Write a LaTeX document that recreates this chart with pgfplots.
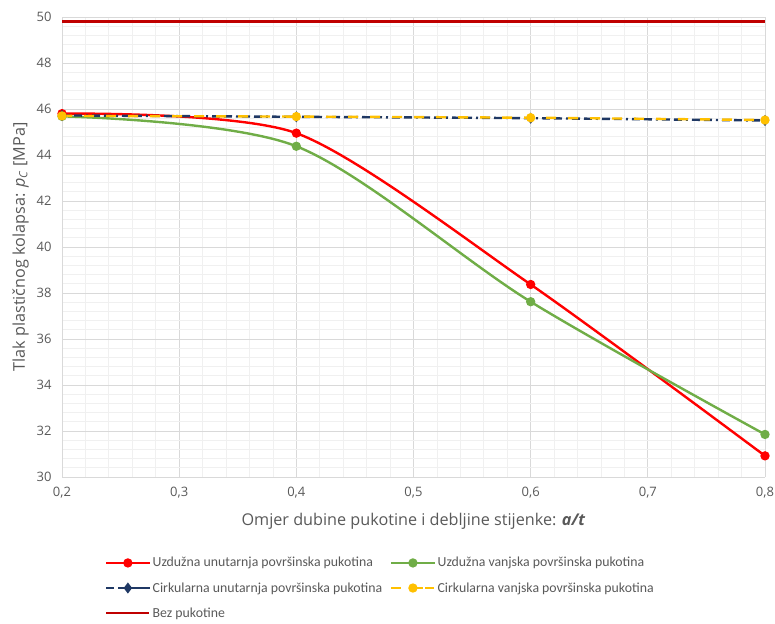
\documentclass[border=0pt]{standalone}
\usepackage{pgfplots}
\pgfplotsset{compat=1.18}
\usepackage{fontspec}
\setmainfont{Open Sans}
\newfontfamily\legfont{Carlito}
\definecolor{tickgray}{HTML}{595959}
\definecolor{majgrid}{HTML}{D9D9D9}
\definecolor{mingrid}{HTML}{F0F0F0}
\definecolor{cred}{HTML}{FF0000}
\definecolor{cgreen}{HTML}{70AD47}
\definecolor{cnavy}{HTML}{1F3864}
\definecolor{cgold}{HTML}{FFC000}
\definecolor{cdark}{HTML}{C00000}
\begin{document}
\begin{tikzpicture}
\useasboundingbox (-62pt,-146pt) rectangle (713pt,477pt);
\begin{axis}[
  scale only axis, width=703pt, height=460pt,
  xmin=0.2, xmax=0.8, ymin=30, ymax=50,
  xtick={0.2,0.3,...,0.8}, ytick={30,32,...,50},
  minor x tick num=4, minor y tick num=4,
  grid=both,
  major grid style={majgrid, line width=0.8pt},
  minor grid style={mingrid, line width=0.8pt},
  major tick length=0pt, minor tick length=0pt,
  axis lines*=left,
  axis line style={-, color=majgrid, line width=0.8pt},
  x tick label style={/pgf/number format/.cd, fixed, precision=1, use comma, /tikz/.cd},
  /pgf/number format/assume math mode=true,
  ticklabel style={font=\fontsize{13}{15}\selectfont, text=tickgray},
  yticklabel style={xshift=-7pt},
  xticklabel style={yshift=-7pt},
  xlabel={Omjer dubine pukotine i debljine stijenke: \textbf{\textit{a/t}}},
  ylabel={Tlak plastičnog kolapsa: \textit{p}\textsubscript{\textit{C}} [MPa]},
  label style={font=\fontsize{16.2}{18}\selectfont, text=tickgray},
  xlabel style={yshift=-8pt},
  ylabel style={yshift=1pt},
  legend columns=2,
  legend cell align=left,
  legend style={at={(axis description cs:0.061,-0.170)}, anchor=north west,
    draw=none, fill=none, inner sep=0pt,
    font=\legfont\fontsize{13.8}{16}\selectfont, text=tickgray,
    /tikz/every even column/.append style={column sep=6pt},
    row sep=10pt},
  legend image code/.code={\draw[mark repeat=2,mark phase=2] plot coordinates {(0pt,0pt) (21.5pt,0pt) (43pt,0pt)};},
]
\addplot[cred, line width=2.4pt, smooth, tension=0.45, mark=*, mark size=3.4pt, mark options={solid, fill=cred, draw=cred}]
 coordinates {(0.2,45.8) (0.4,44.95) (0.6,38.37) (0.8,30.92)};
\addlegendentry{Uzdužna unutarnja površinska pukotina}
\addplot[cgreen, line width=2.4pt, smooth, mark=*, mark size=3.4pt, mark options={solid, fill=cgreen, draw=cgreen}]
 coordinates {(0.2,45.68) (0.4,44.38) (0.6,37.62) (0.8,31.85)};
\addlegendentry{Uzdužna vanjska površinska pukotina}
\addplot[cnavy, line width=2.4pt, smooth, dash pattern=on 8pt off 4pt on 8pt off 4pt on 2pt off 4pt, mark=diamond*, mark size=3.6pt, mark options={solid, fill=cnavy, draw=cnavy},
  legend image code/.code={\draw[mark=none, dash pattern=on 8pt off 4pt] (0pt,0pt) -- (43pt,0pt);
    \path[mark repeat=2,mark phase=2] plot coordinates {(0pt,0pt) (21.5pt,0pt) (43pt,0pt)};}]
 coordinates {(0.2,45.72) (0.4,45.66) (0.6,45.6) (0.8,45.5)};
\addlegendentry{Cirkularna unutarnja površinska pukotina}
\addplot[cgold, line width=2.4pt, smooth, dash pattern=on 10pt off 12pt, mark=*, mark size=3.4pt, mark options={solid, fill=cgold, draw=cgold},
  legend image code/.code={\draw[mark=none, dash pattern=on 9pt off 25pt] (0pt,0pt) -- (43pt,0pt);
    \path[mark repeat=2,mark phase=2] plot coordinates {(0pt,0pt) (21.5pt,0pt) (43pt,0pt)};}]
 coordinates {(0.2,45.7) (0.4,45.67) (0.6,45.62) (0.8,45.52)};
\addlegendentry{Cirkularna vanjska površinska pukotina}
\addplot[cdark, line width=2.6pt] coordinates {(0.2,49.8) (0.8,49.8)};
\addlegendentry{Bez pukotine}
\end{axis}
\end{tikzpicture}
\end{document}
